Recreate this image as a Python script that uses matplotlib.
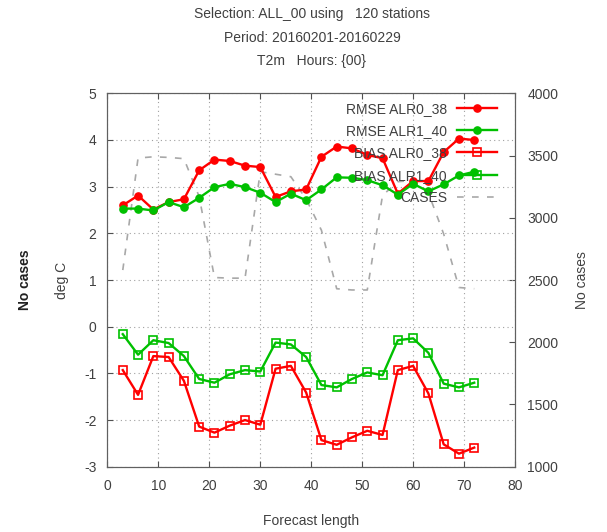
import matplotlib
matplotlib.use("Agg")
import matplotlib.pyplot as plt

plt.rcParams['font.family'] = ['Liberation Sans', 'DejaVu Sans']
plt.rcParams['axes.unicode_minus'] = False

# forecast lengths (hours)
lead = [3, 6, 9, 12, 15, 18, 21, 24, 27, 30, 33, 36,
        39, 42, 45, 48, 51, 54, 57, 60, 63, 66, 69, 72]

rmse_alr0 = [2.60, 2.81, 2.51, 2.67, 2.73, 3.35, 3.58, 3.55, 3.45, 3.42, 2.78, 2.90,
             2.94, 3.64, 3.86, 3.82, 3.68, 3.61, 2.85, 3.12, 3.12, 3.74, 4.03, 4.00]
rmse_alr1 = [2.53, 2.53, 2.49, 2.67, 2.56, 2.76, 2.99, 3.06, 2.99, 2.87, 2.67, 2.85,
             2.71, 2.94, 3.20, 3.19, 3.14, 3.03, 2.83, 3.06, 2.90, 3.05, 3.24, 3.32]
bias_alr0 = [-0.93, -1.46, -0.63, -0.65, -1.16, -2.14, -2.27, -2.12, -2.00, -2.10, -0.90, -0.84,
             -1.41, -2.43, -2.53, -2.37, -2.23, -2.32, -0.93, -0.84, -1.43, -2.52, -2.72, -2.59]
bias_alr1 = [-0.16, -0.60, -0.29, -0.35, -0.63, -1.12, -1.20, -1.02, -0.93, -0.96, -0.34, -0.38,
             -0.65, -1.25, -1.30, -1.12, -0.98, -1.04, -0.29, -0.25, -0.56, -1.22, -1.30, -1.20]
cases = [2580, 3480, 3490, 3485, 3475, 3170, 2520, 2515, 2515, 3370, 3350, 3330,
         3150, 2900, 2430, 2420, 2420, 3180, 3290, 3300, 3200, 2870, 2440, 2430]

red = '#ff0000'
green = '#00c000'
txt = '#404040'

fig = plt.figure(figsize=(6.07, 5.32), dpi=100)
ax = fig.add_axes([0.1771, 0.1227, 0.6713, 0.7019])
ax2 = ax.twinx()

# cases on the right axis, kept behind the scores
ax.set_zorder(ax2.get_zorder() + 1)
ax.patch.set_visible(False)
l_cases, = ax2.plot(lead, cases, color='#a8a8a8', lw=1.2, dashes=(4, 5), label='CASES')

l1, = ax.plot(lead, rmse_alr0, '-o', color=red, lw=1.7, ms=5.2, label='RMSE ALR0_38')
l2, = ax.plot(lead, rmse_alr1, '-o', color=green, lw=1.7, ms=5.2, label='RMSE ALR1_40')
l3, = ax.plot(lead, bias_alr0, '-s', color=red, lw=1.7, ms=5.5, mfc='none', mew=1.2, label='BIAS ALR0_38')
l4, = ax.plot(lead, bias_alr1, '-s', color=green, lw=1.7, ms=5.5, mfc='none', mew=1.2, label='BIAS ALR1_40')

ax.set_xlim(0, 80)
ax.set_ylim(-3, 5)
ax2.set_ylim(1000, 4000)
ax.set_xticks(range(0, 81, 10))
ax.set_yticks(range(-3, 6))
ax2.set_yticks(range(1000, 4001, 500))

ax.grid(True, color='#a0a0a0', linestyle=(0, (1, 3)), linewidth=0.8)
ax.tick_params(direction='in', length=4, color='#505050', labelcolor=txt,
               labelsize=10, top=True, right=False, pad=8)
ax.tick_params(axis='x', pad=9)
ax2.tick_params(direction='in', length=4, color='#505050', labelcolor=txt,
                labelsize=10, pad=9)
for a in (ax, ax2):
    for s in a.spines.values():
        s.set_color('#606060')

ax.set_xlabel('Forecast length', fontsize=10, color=txt, labelpad=15)
ax.set_ylabel('deg C', fontsize=10, color=txt, labelpad=11)
ax2.set_ylabel('No cases', fontsize=10, color=txt, labelpad=12)
fig.text(0.041, 0.475, 'No cases', rotation=90, fontsize=10, fontweight='bold',
         color='#202020', ha='center', va='center')

fig.text(0.514, 0.974, 'Selection: ALL_00 using   120 stations', fontsize=10, color=txt, ha='center', va='center')
fig.text(0.514, 0.929, 'Period: 20160201-20160229', fontsize=10, color=txt, ha='center', va='center')
fig.text(0.514, 0.885, 'T2m   Hours: {00}', fontsize=10, color=txt, ha='center', va='center')

leg = ax.legend(handles=[l1, l2, l3, l4, l_cases], loc='upper right',
                bbox_to_anchor=(0.956, 0.978), markerfirst=False, frameon=False,
                fontsize=10, numpoints=1, handlelength=2.9, handletextpad=0.7,
                labelspacing=0.6, borderpad=0, borderaxespad=0)
for t in leg.get_texts():
    t.set_color(txt)

fig.savefig('out.png', dpi=100)
